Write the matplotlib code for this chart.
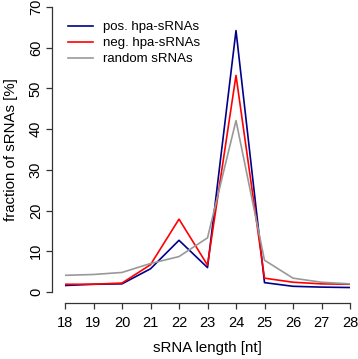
import matplotlib
matplotlib.use('Agg')
import matplotlib.pyplot as plt

lengths = [18, 19, 20, 21, 22, 23, 24, 25, 26, 27, 28]
pos_hpa = [1.6, 1.9, 2.0, 5.7, 12.7, 6.0, 64.2, 2.3, 1.4, 1.2, 1.1]
neg_hpa = [1.9, 1.9, 2.2, 6.7, 17.9, 6.6, 53.2, 3.4, 2.4, 2.0, 1.9]
random_srna = [4.1, 4.3, 4.8, 7.0, 8.7, 13.3, 42.1, 7.8, 3.4, 2.4, 2.0]

plt.rcParams['font.family'] = ['Liberation Sans', 'DejaVu Sans']

fig = plt.figure(figsize=(3.58, 3.59), dpi=100)
ax = fig.add_axes([65/358, 67/359, 285/358, 285/359])

ax.plot(lengths, pos_hpa, color='#00008B', lw=1.2, label='pos. hpa-sRNAs')
ax.plot(lengths, neg_hpa, color='red', lw=1.2, label='neg. hpa-sRNAs')
ax.plot(lengths, random_srna, color='#999999', lw=1.2, label='random sRNAs')

ax.set_xlim(18, 28)
ax.set_ylim(0, 70)
ax.set_xticks(lengths)
ax.set_yticks(range(0, 71, 10))

for s in ['top', 'right']:
    ax.spines[s].set_visible(False)
ax.spines['left'].set_position(('outward', 9.4))
ax.spines['bottom'].set_position(('outward', 8))
ax.spines['left'].set_bounds(0, 70)
ax.spines['bottom'].set_bounds(18, 28)
for s in ['left', 'bottom']:
    ax.spines[s].set_color('#333333')
    ax.spines[s].set_linewidth(0.9)

ax.tick_params(axis='both', length=4.5, width=0.9, color='#333333', labelsize=10.5)
ax.tick_params(axis='x', pad=5)
ax.tick_params(axis='y', pad=2)
for lbl in ax.get_yticklabels():
    lbl.set_rotation(90)
    lbl.set_va('center')

ax.set_xlabel('sRNA length [nt]', fontsize=10.8, labelpad=8)
ax.set_ylabel('fraction of sRNAs [%]', fontsize=10.8, labelpad=8)

ax.legend(loc='upper left', bbox_to_anchor=(0.0105, 0.95), frameon=False, fontsize=9.5,
          handlelength=1.9, handletextpad=0.76, labelspacing=0.28,
          borderaxespad=0, borderpad=0)

fig.savefig('out.png', dpi=100, facecolor='white')
